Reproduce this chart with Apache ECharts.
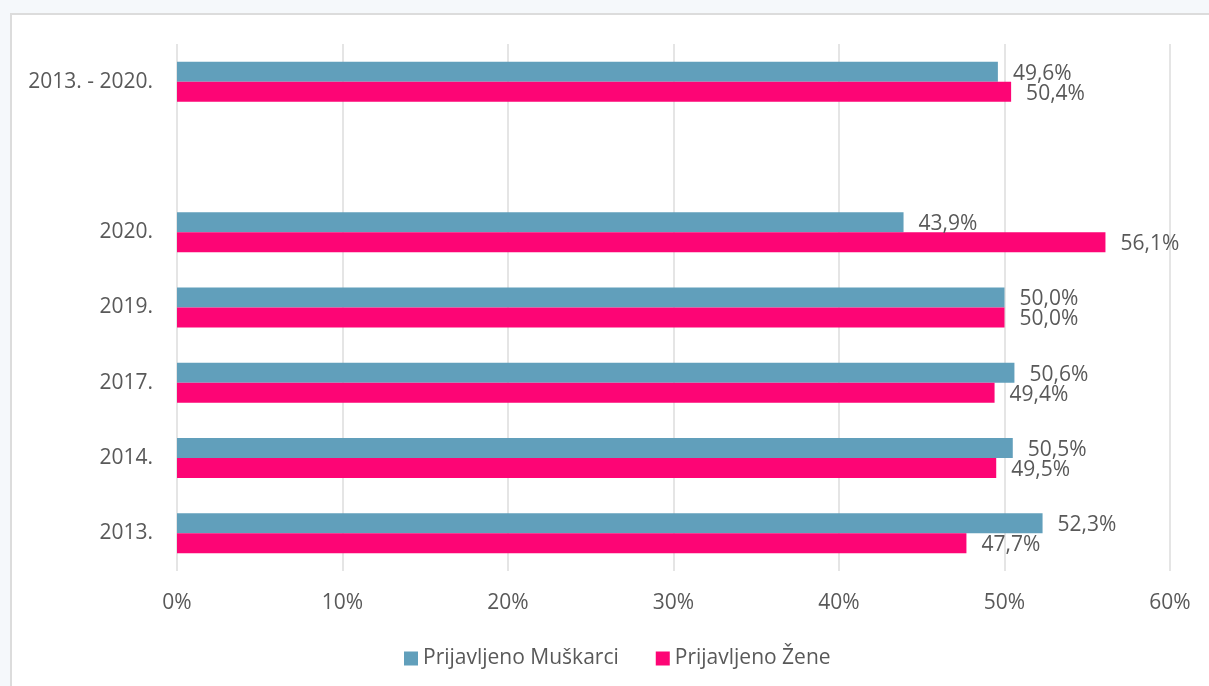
<!DOCTYPE html>
<html>
<head>
<meta charset="utf-8">
<script src="https://cdn.jsdelivr.net/npm/echarts@6/dist/echarts.min.js"></script>
<style>
  body { margin: 0; background: #f5f8fb; overflow: hidden; }
  .okvir { position: absolute; left: 10px; top: 13px; width: 1260px; height: 720px; background: #fff; border: 2px solid #dcdcdc; }
  #chart { position: absolute; left: 0; top: 0; width: 1209px; height: 686px; }
</style>
</head>
<body>
<div class="okvir"></div>
<div id="chart"></div>
<script>
// kategorije (odozdo prema gore), prazno mjesto prije ukupnog razdoblja
var godine = ['2013.', '2014.', '2017.', '2019.', '2020.', '', '2013. - 2020.'];
var muskarci = [52.3, 50.5, 50.6, 50.0, 43.9, null, 49.6];
var zene = [47.7, 49.5, 49.4, 50.0, 56.1, null, 50.4];
var xTicks = [0, 60, 10]; // min, max, korak

var boja = '#595959';
var font = '"Open Sans", sans-serif';
var velicina = 21;

function oznaka(p) {
    return p.value.toFixed(1).replace('.', ',') + '%';
}

var myChart = echarts.init(document.getElementById('chart'), null, { renderer: 'canvas' });
var option = {
    backgroundColor: 'transparent',
    animation: false,
    textStyle: { fontFamily: font },
    grid: { left: 177, right: 39, top: 44, bottom: 115 },
    legend: {
        left: 399, top: 643,
        icon: 'rect', itemWidth: 14, itemHeight: 14, itemGap: 37,
        textStyle: { color: boja, fontSize: velicina, fontFamily: font },
        data: ['Prijavljeno Muškarci', 'Prijavljeno Žene']
    },
    xAxis: {
        type: 'value',
        min: xTicks[0], max: xTicks[1], interval: xTicks[2],
        axisLine: { show: false },
        axisTick: { show: false },
        axisLabel: { formatter: '{value}%', color: boja, fontSize: velicina, margin: 22, fontFamily: font },
        splitLine: { lineStyle: { color: '#dcdcdc', width: 1.5 } }
    },
    yAxis: {
        type: 'category',
        data: godine,
        axisLine: { show: false },
        axisTick: { show: false },
        axisLabel: { color: boja, fontSize: velicina, margin: 24, fontFamily: font }
    },
    series: [
        {
            name: 'Prijavljeno Muškarci',
            type: 'bar',
            data: muskarci,
            barWidth: 20,
            barGap: '0%',
            itemStyle: { color: '#619fbb' },
            label: { show: true, position: 'right', distance: 15, offset: [0, 2], color: boja, fontSize: velicina, fontFamily: font, formatter: oznaka }
        },
        {
            name: 'Prijavljeno Žene',
            type: 'bar',
            data: zene,
            barWidth: 20,
            barGap: '0%',
            itemStyle: { color: '#fd0575' },
            label: { show: true, position: 'right', distance: 15, offset: [0, 2], color: boja, fontSize: velicina, fontFamily: font, formatter: oznaka }
        }
    ]
};
myChart.setOption(option);
</script>
</body>
</html>
